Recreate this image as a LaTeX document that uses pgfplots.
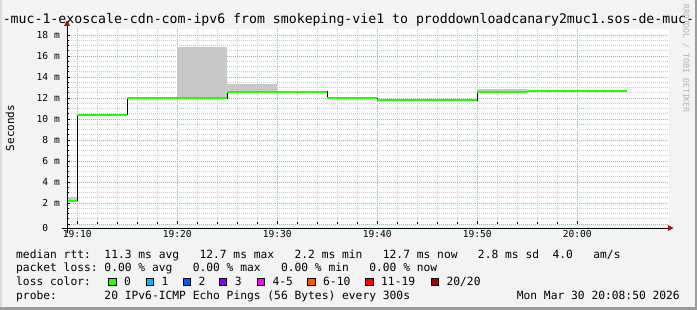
\documentclass[border=0pt]{standalone}
\usepackage{pgfplots}
\pgfplotsset{compat=1.18}
\usepackage{fontspec}
\setmainfont{DejaVu Sans Mono}
\setmonofont{DejaVu Sans Mono}
\definecolor{bg}{HTML}{F3F3F3}
\definecolor{mgrid}{HTML}{E79898}
\definecolor{ngrid}{HTML}{CCCCCC}
\definecolor{smoke}{HTML}{C8C8C8}
\definecolor{med}{HTML}{26FF00}
\definecolor{arr}{HTML}{A01010}
\definecolor{bord}{HTML}{9C9C9C}
\definecolor{lbord}{HTML}{DCDCDC}
\definecolor{lc1}{HTML}{00B8FF}
\definecolor{lc2}{HTML}{0059FF}
\definecolor{lc3}{HTML}{7E00FF}
\definecolor{lc4}{HTML}{FF00FF}
\definecolor{lc5}{HTML}{FF5500}
\definecolor{lc6}{HTML}{FF0000}
\definecolor{lc7}{HTML}{A10000}
\newcommand\fs[1]{\fontsize{#1}{#1}\selectfont}
\begin{document}
\begin{tikzpicture}[x=1pt,y=1pt]
\fill[bg] (0,0) rectangle (697,310);
\useasboundingbox (0,0) rectangle (697,310);
\fill[lbord] (0,0) rectangle (2,310);
\fill[bord] (694.5,0) rectangle (697,310);
\fill[bord] (0,0) rectangle (697,2.5);
\begin{axis}[at={(67,82)}, anchor=south west, scale only axis,
  width=602pt, height=195pt,
  xmin=-1.03, xmax=59.17, ymin=0, ymax=18.57,
  axis background/.style={fill=white},
  axis line style={draw=none},
  xtick={0,10,...,50},
  xticklabels={19:10,19:20,19:30,19:40,19:50,20:00},
  minor x tick num=4,
  ytick={0,2,...,18},
  yticklabels={{},2~m,4~m,6~m,8~m,10~m,12~m,14~m,16~m,18~m},
  minor y tick num=3,
  grid=both,
  major grid style={mgrid, line width=0.6pt, dash pattern=on 1pt off 1pt},
  minor grid style={ngrid, line width=0.6pt, dash pattern=on 1pt off 1pt},
  tick style={black, line width=0.5pt},
  major tick length=3pt, minor tick length=2pt, tick align=inside,
  xtick pos=bottom, ytick pos=left,
  xticklabel style={font=\fs{9.6}, inner sep=0pt, anchor=center, yshift=-10pt},
  yticklabel style={font=\fs{9.6}, inner sep=0pt, anchor=east, xshift=-7pt},
  clip=true,
]
\addplot[fill=smoke, draw=none] coordinates {(-1.03,2.2) (-1.03,2.55) (0,2.55) (0,2.2)} -- cycle;
\addplot[fill=smoke, draw=none] coordinates {(10,12.0) (10,16.8) (15,16.8) (15,12.0)} -- cycle;
\addplot[fill=smoke, draw=none] coordinates {(15,12.6) (15,13.3) (20,13.3) (20,12.6)} -- cycle;
\addplot[fill=smoke, draw=none] coordinates {(40,12.6) (40,12.85) (45,12.85) (45,12.6)} -- cycle;
\addplot[black, line width=0.7pt, const plot mark left] coordinates {
(-1.03,2.2) (0,10.4) (5,12.0) (10,12.0) (15,12.6) (20,12.6) (25,11.95) (30,11.8) (35,11.8) (40,12.6) (45,12.7) (50,12.7) (55,12.7)};
\addplot[med, line width=2pt, jump mark left] coordinates {
(-1.03,2.2) (0,10.4) (5,12.0) (10,12.0) (15,12.6) (20,12.6) (25,11.95) (30,11.8) (35,11.8) (40,12.6) (45,12.7) (50,12.7) (55,12.7)};
\end{axis}
% axis lines
\draw[black, line width=0.9pt] (62,82) -- (669,82);
\fill[arr] (668,79) -- (673.5,82) -- (668,85) -- cycle;
\draw[black, line width=0.9pt] (67,77) -- (67,285);
\fill[arr] (64,284) -- (67,289.5) -- (70,284) -- cycle;
% zero label on y axis
\node[font=\fs{9.6}, inner sep=0pt, anchor=east] at (60,82) {0\hphantom{~m}};
% title
\node[font=\fs{13.2}, inner sep=0pt, anchor=base] at (348.5,286.5) {-muc-1-exoscale-cdn-com-ipv6 from smokeping-vie1 to proddownloadcanary2muc1.sos-de-muc-};
% y label
\node[font=\fs{11}, rotate=90, inner sep=0pt] at (10,182) {Seconds};
% watermark
\node[font=\fs{8.2}, rotate=-90, inner sep=0pt, anchor=west, text=black!30] at (686,306) {RRDTOOL / TOBI OETIKER};
% legend
\begin{scope}[every node/.style={font=\fs{11.28}, inner sep=0pt, anchor=base west}]
\node at (16,51.7) {median~rtt:~~11.3~ms~avg~~~12.7~ms~max~~~2.2~ms~min~~~12.7~ms~now~~~2.8~ms~sd~~4.0~~~am/s};
\node at (16,38.3) {packet~loss:~0.00~\%~avg~~~0.00~\%~max~~~0.00~\%~min~~~0.00~\%~now};
\node at (16,24.3) {loss~color:};
\node at (16,10.7) {probe:~~~~~~~20~IPv6-ICMP~Echo~Pings~(56~Bytes)~every~300s};
\node[anchor=base east] at (680,10.7) {Mon~Mar~30~20:08:50~2026};
\foreach \bx/\col/\lab in {108.3/med/0, 145.7/lc1/1, 182.7/lc2/2, 219/lc3/3, 256.7/lc4/4-5, 307.3/lc5/6-10, 365.3/lc6/11-19, 430.7/lc7/{20/20}}{
  \filldraw[fill=\col, draw=black, line width=0.8pt] (\bx+0.4,24.1) rectangle (\bx+7.6,31.3);
  \node at (\bx+15.7,24.3) {\lab};
}
\end{scope}
\end{tikzpicture}
\end{document}
